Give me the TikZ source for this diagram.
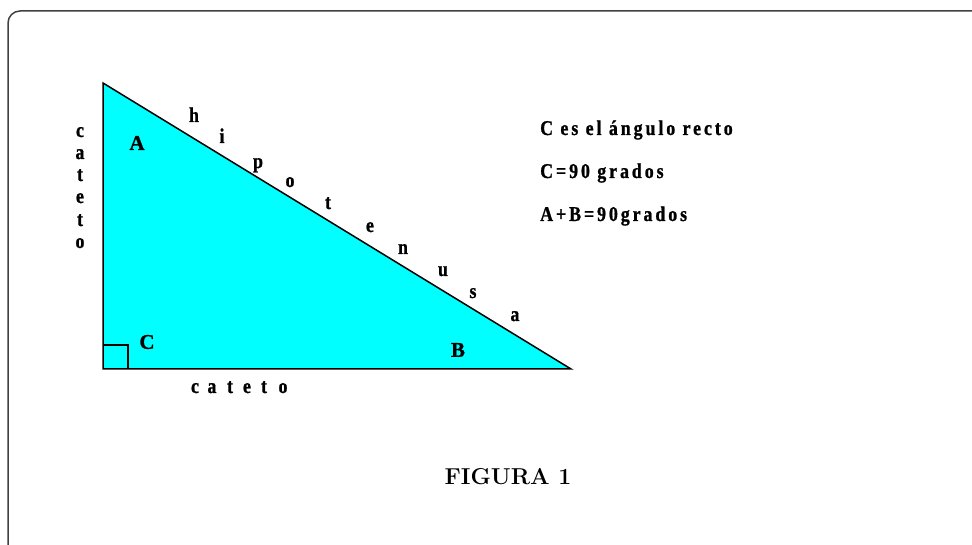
\documentclass[tikz,border=0pt]{standalone}
\usepackage{fontspec}
\newfontfamily\txtfont[FakeStretch=0.85,LetterSpace=14,FakeBold=1]{Liberation Serif}
\newfontfamily\angfont[FakeBold=1]{Liberation Serif}
\definecolor{relleno}{RGB}{0,255,255}
\tikzset{
  letra/.style={font=\txtfont\bfseries\fontsize{21}{23}\selectfont, anchor=base, inner sep=0pt},
  vertice/.style={font=\angfont\bfseries\fontsize{21}{23}\selectfont, inner sep=0pt},
  frase/.style={font=\txtfont\bfseries\fontsize{21}{23}\selectfont, anchor=base west, inner sep=0pt}
}
\begin{document}
\begin{tikzpicture}[x=1pt, y=1pt]
    \useasboundingbox (0,0) rectangle (972,545);
    \clip (0,0) rectangle (972,545);
    % frame, cut off at right and bottom
    \draw[line width=1.5pt, color=black!75, rounded corners=12pt] (8,534) rectangle (995,-25);
    % triangle
    \coordinate (A) at (103,462);
    \coordinate (C) at (103,176);
    \coordinate (B) at (571,176);
    \fill[relleno] (A) -- (C) -- (B) -- cycle;
    \draw[line width=1.5pt] (A) -- (C) -- (B) -- cycle;
    % right angle mark
    \draw[line width=1.2pt] (103,200) -- (128,200) -- (128,176);
    % vertex labels
    \node[vertice] (lA) at (137,402) {A};
    \node[vertice] (lC) at (147,203) {C};
    \node[vertice] (lB) at (458,195) {B};
    % hipotenusa
    \node[letra] (h1) at (194,423) {h};
    \node[letra] (h2) at (222,402) {i};
    \node[letra] (h3) at (258,377) {p};
    \node[letra] (h4) at (290,358) {o};
    \node[letra] (h5) at (328,336) {t};
    \node[letra] (h6) at (370,313) {e};
    \node[letra] (h7) at (403,291) {n};
    \node[letra] (h8) at (443,269) {u};
    \node[letra] (h9) at (473,247) {s};
    \node[letra] (h10) at (515,224) {a};
    % cateto, vertical
    \node[letra] (v1) at (80,408) {c};
    \node[letra] (v2) at (80,386) {a};
    \node[letra] (v3) at (80,364) {t};
    \node[letra] (v4) at (80,342) {e};
    \node[letra] (v5) at (80,319) {t};
    \node[letra] (v6) at (80,297) {o};
    % cateto, horizontal
    \node[letra] (b1) at (195,152) {c};
    \node[letra] (b2) at (212,152) {a};
    \node[letra] (b3) at (230,152) {t};
    \node[letra] (b4) at (247,152) {e};
    \node[letra] (b5) at (264,152) {t};
    \node[letra] (b6) at (283,152) {o};
    % notes
    \node[frase] (n1) at (540,410) {C es el ángulo recto};
    \node[frase] (n2) at (540,367) {C=90 grados};
    \node[frase] (n3) at (540,324) {A+B=90grados};
    % caption
    \node[anchor=base, font=\bfseries\fontsize{23}{26}\selectfont] (fig) at (508,60) {FIGURA 1};
\end{tikzpicture}
\end{document}
